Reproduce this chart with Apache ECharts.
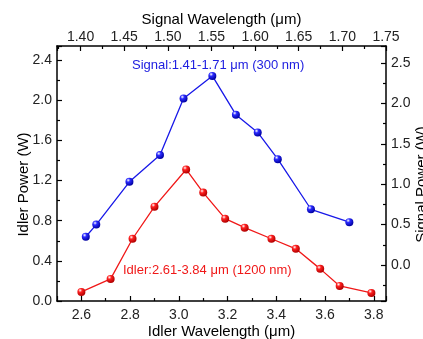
<!DOCTYPE html>
<html>
<head>
<meta charset="utf-8">
<script src="https://cdn.jsdelivr.net/npm/echarts@6/dist/echarts.min.js"></script>
<style>
  html, body { margin: 0; padding: 0; background: #fff; }
  #main { width: 423px; height: 339px; }
</style>
</head>
<body>
<div id="main"></div>
<script>
// idler: bottom + left axes
const idlerWavelength = [2.60, 2.72, 2.81, 2.90, 3.03, 3.10, 3.19, 3.27, 3.38, 3.48, 3.58, 3.66, 3.79];
const idlerPower = [0.09, 0.22, 0.62, 0.94, 1.31, 1.08, 0.82, 0.73, 0.62, 0.52, 0.32, 0.15, 0.08];
// signal: top + right axes
const signalWavelength = [1.406, 1.418, 1.456, 1.491, 1.518, 1.551, 1.578, 1.603, 1.626, 1.664, 1.708];
const signalPower = [0.35, 0.50, 1.03, 1.36, 2.06, 2.34, 1.86, 1.64, 1.31, 0.69, 0.53];

const FONT = '"Liberation Sans", Arial, sans-serif';
const black = '#000';

function ball(c, dark) {
  return new echarts.graphic.RadialGradient(0.35, 0.3, 0.7, [
    { offset: 0, color: '#ffffff' },
    { offset: 0.35, color: c },
    { offset: 1, color: dark }
  ]);
}

function axisBase(fmt) {
  return {
    type: 'value',
    splitLine: { show: false },
    axisLine: { show: true, onZero: false, lineStyle: { color: black, width: 1.5 } },
    axisTick: { show: true, inside: true, length: 5, lineStyle: { color: black, width: 1.2 } },
    minorTick: { show: true, splitNumber: 2, length: 3, lineStyle: { color: black, width: 1.2 } },
    axisLabel: { color: '#222', fontSize: 14, fontFamily: FONT, margin: 5, showMinLabel: false, showMaxLabel: false,
      formatter: fmt },
    nameLocation: 'middle',
    nameMoveOverlap: false,
    nameTextStyle: { color: black, fontSize: 15, fontFamily: FONT }
  };
}

const chart = echarts.init(document.getElementById('main'), null, { renderer: 'canvas' });

const xBottom = axisBase(v => v.toFixed(1));
Object.assign(xBottom, { position: 'bottom', min: 2.5, max: 3.85, splitNumber: 7, name: 'Idler Wavelength (μm)', nameGap: 23 });
xBottom.axisLabel.margin = 7;

const xTop = axisBase(v => v.toFixed(2));
Object.assign(xTop, { position: 'top', min: 1.373, max: 1.75, splitNumber: 8, name: 'Signal Wavelength (μm)', nameGap: 19 });
xTop.axisLabel.showMaxLabel = true;
xTop.axisLabel.margin = 2;

const yLeft = axisBase(v => v.toFixed(1));
Object.assign(yLeft, { position: 'left', min: 0, max: 2.54, interval: 0.4, name: 'Idler Power (W)', nameGap: 26 });
yLeft.axisLabel.showMinLabel = true;
yLeft.nameTextStyle.padding = [0, 22, 0, 0];

const yRight = axisBase(v => v.toFixed(1));
Object.assign(yRight, { position: 'right', min: -0.445, max: 2.71, splitNumber: 6, name: 'Signal Power (W)', nameGap: 28 });
yRight.nameTextStyle.padding = [0, 22, 0, 0];

const option = {
  backgroundColor: '#fff',
  animation: false,
  grid: { left: 57, right: 37, top: 46, bottom: 38, outerBoundsMode: 'none', containLabel: false },
  xAxis: [xBottom, xTop],
  yAxis: [yLeft, yRight],
  series: [
    {
      name: 'Idler',
      type: 'line',
      xAxisIndex: 0,
      yAxisIndex: 0,
      data: idlerWavelength.map((w, i) => [w, idlerPower[i]]),
      symbol: 'circle',
      symbolSize: 8,
      lineStyle: { color: '#f01818', width: 1.3 },
      itemStyle: { color: ball('#ff2020', '#b00000'), borderWidth: 0 }
    },
    {
      name: 'Signal',
      type: 'line',
      xAxisIndex: 1,
      yAxisIndex: 1,
      data: signalWavelength.map((w, i) => [w, signalPower[i]]),
      symbol: 'circle',
      symbolSize: 8,
      lineStyle: { color: '#1818e8', width: 1.3 },
      itemStyle: { color: ball('#2a2aff', '#0000a0'), borderWidth: 0 }
    }
  ],
  graphic: [
    { type: 'text', left: 132, top: 59,
      style: { text: 'Signal:1.41-1.71 μm (300 nm)', fill: '#2020e0', font: '13px ' + FONT } },
    { type: 'text', left: 123, top: 264,
      style: { text: 'Idler:2.61-3.84 μm (1200 nm)', fill: '#f01818', font: '13px ' + FONT } }
  ]
};

chart.setOption(option);
</script>
</body>
</html>
